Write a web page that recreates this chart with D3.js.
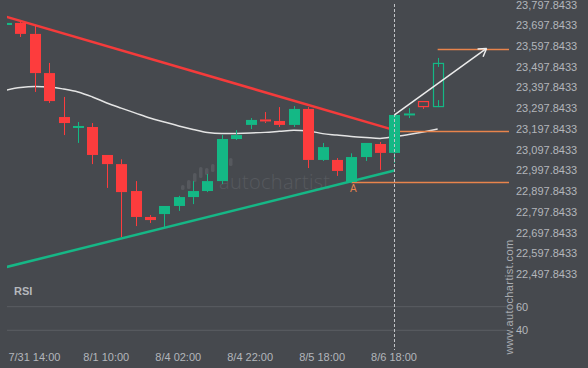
<!DOCTYPE html>
<meta charset="utf-8">
<style>
  body { margin: 0; background: #46494e; }
  svg { display: block; font-family: "Liberation Sans", Arial, sans-serif; }
  .axis text { fill: #b3b6bb; font-size: 11px; }
  .axis path, .axis line { display: none; }
</style>
<body>
<div id="chart"></div>
<script src="https://cdnjs.cloudflare.com/ajax/libs/d3/7.8.5/d3.min.js"></script>
<script>
// candles (4h)
const open  = [23699, 23709, 23656, 23467, 23255, 23205, 23207, 23072, 23028, 22898, 22773, 22787, 22826, 22869, 22898, 22946, 23149, 23217, 23241, 23236, 23217, 23294, 23048, 23048, 22942, 23062, 23125, 23082, 23265, 23332, 23303];
const high  = [23711, 23718, 23694, 23516, 23352, 23231, 23226, 23072, 23051, 22946, 22782, 22826, 22875, 22946, 22980, 23168, 23192, 23250, 23279, 23303, 23308, 23303, 23130, 23057, 23080, 23130, 23135, 23265, 23298, 23332, 23540];
const low   = [23697, 23641, 23376, 23323, 23168, 23130, 23028, 22913, 22676, 22729, 22744, 22720, 22802, 22835, 22893, 22932, 23144, 23197, 23226, 23207, 23207, 23009, 23043, 22971, 22937, 23043, 23000, 23033, 23250, 23294, 23303];
const close = [23709, 23656, 23467, 23332, 23226, 23209, 23072, 23028, 22893, 22773, 22758, 22826, 22869, 22898, 22946, 23149, 23168, 23241, 23236, 23217, 23294, 23048, 23110, 22995, 23062, 23130, 23082, 23265, 23270, 23303, 23516];
const hollowFrom = 29;

// moving average
const ma = [23385, 23397, 23402, 23400, 23390, 23376, 23352, 23323, 23298, 23274, 23250, 23231, 23212, 23195, 23180, 23175, 23176, 23178, 23181, 23186, 23191, 23188, 23175, 23168, 23161, 23156, 23152, 23161, 23171, 23183, 23197];

// RSI
const rsi = [62.3, 59.5, 59.5, 59.5, 56.1, 59.5, 56.9, 53.4, 50.2, 50.2, 50.2, 50.2, 50.2, 50.2, 53.6, 53.6, 56.6, 59.5, 56.1, 56.1, 56.1, 53.8, 53.8, 53.8, 56.1, 56.1, 56.1, 56.1, 59.5, 56.1, 56.1];

// pattern lines [index, price]
const resistance = [[0, 23739], [27, 23192]];
const support = [[0, 22531], [27, 22997]];
const arrowPts = [[27, 23265], [33.4, 23586]];
const targetLevel = 23585, targetFrom = 30;
const breakLevel = 23188, breakFrom = 27;
const aLevel = 22940, aFrom = 24;
const signalIdx = 27;

const xTickIdx = [2, 7, 12, 17, 22, 27];
const xTickLabels = ["7/31 14:00", "8/1 10:00", "8/4 02:00", "8/4 22:00", "8/5 18:00", "8/6 18:00"];
const priceTicks = d3.range(0, 14).map(k => 22497.8433 + k * 100);
const rsiTicks = [60, 40];

const width = 588, height = 368;
const green = "#14b885", red = "#fd3c3d", orange = "#e8844c";

const svg = d3.select("#chart").append("svg")
  .attr("width", width).attr("height", height);
svg.append("rect").attr("width", width).attr("height", height).attr("fill", "#46494e");

const x = d3.scaleLinear().domain([0, 34.94]).range([6.115, 508.7]);
const y = d3.scaleLinear().domain([22497.8433, 23797.8433]).range([274, 4.5]);
const yr = d3.scaleLinear().domain([40, 60]).range([330.3, 306.7]);

svg.append("clipPath").attr("id", "plot")
  .append("rect").attr("x", 7).attr("y", 0).attr("width", 502).attr("height", 285);

// watermark
const wm = svg.append("g").attr("fill", "#56595e");
const logo = [[181, 185, 5], [187, 180, 9], [193, 173, 9], [199, 167, 11], [205, 168, 7], [211, 164, 8], [217, 160, 10], [223, 158, 8], [229, 158, 8]];
wm.selectAll("rect").data(logo).enter().append("rect")
  .attr("x", d => d[0]).attr("y", d => d[1]).attr("width", 3.5).attr("height", d => d[2]).attr("rx", 1.5);
wm.append("text").attr("x", 219).attr("y", 189)
  .attr("font-size", 20).attr("font-weight", 300).attr("font-family", "'Open Sans', sans-serif")
  .attr("letter-spacing", 0.3).text("autochartist");

const plot = svg.append("g").attr("clip-path", "url(#plot)");

// RSI grid
svg.selectAll(".rgrid").data(rsiTicks).enter().append("line")
  .attr("x1", 7).attr("x2", 507).attr("y1", d => yr(d)).attr("y2", d => yr(d))
  .attr("stroke", "#5b5e63").attr("stroke-width", 1);

// signal dashed line
svg.append("line")
  .attr("x1", x(signalIdx)).attr("x2", x(signalIdx)).attr("y1", 4).attr("y2", 350)
  .attr("stroke", "#c4c6c9").attr("stroke-width", 1).attr("stroke-dasharray", "3,2");

const line = d3.line().x(d => x(d[0])).y(d => y(d[1]));

plot.append("path").datum(ma.map((v, i) => [i, v]))
  .attr("d", line.curve(d3.curveMonotoneX)).attr("fill", "none")
  .attr("stroke", "#e4e4e4").attr("stroke-width", 1.5);
line.curve(d3.curveLinear);

plot.append("path").datum(resistance).attr("d", line)
  .attr("stroke", "#f43b3b").attr("stroke-width", 2.5).attr("fill", "none");
plot.append("path").datum(support).attr("d", line)
  .attr("stroke", "#16b786").attr("stroke-width", 2.5).attr("fill", "none");

// levels
const levels = [[breakLevel, breakFrom], [aLevel, aFrom], [targetLevel, targetFrom]];
plot.selectAll(".lvl").data(levels).enter().append("line")
  .attr("x1", d => x(d[1])).attr("x2", 509)
  .attr("y1", d => Math.round(y(d[0])) + 0.5).attr("y2", d => Math.round(y(d[0])) + 0.5)
  .attr("stroke", orange).attr("stroke-width", 1.3);
svg.append("text").attr("x", x(aFrom) + 2).attr("y", y(aLevel) + 9.5)
  .attr("fill", orange).attr("font-size", 10).attr("text-anchor", "middle").text("A");

// candles
const candles = plot.selectAll(".c").data(open.map((o, i) => i)).enter().append("g");
const bw = 11;
candles.each(function (i) {
  const g = d3.select(this);
  const up = close[i] >= open[i];
  const col = up ? green : red;
  const hollow = i >= hollowFrom;
  const cx = Math.round(x(i)) + 0.5;
  let top = y(Math.max(open[i], close[i])), bot = y(Math.min(open[i], close[i]));
  if (bot - top < 2) { const m = (top + bot) / 2; top = m - 1; bot = m + 1; }
  const inset = hollow && bot - top > 20;
  g.append("line").attr("x1", cx).attr("x2", cx)
    .attr("y1", y(high[i])).attr("y2", top + (inset ? 4 : 0))
    .attr("stroke", col).attr("stroke-width", 1);
  g.append("line").attr("x1", cx).attr("x2", cx)
    .attr("y1", bot - (inset ? 7 : 0)).attr("y2", y(low[i]))
    .attr("stroke", col).attr("stroke-width", 1);
  if (hollow) {
    g.append("rect").attr("x", cx - bw / 2 + 0.5).attr("y", top + 0.5)
      .attr("width", bw - 1).attr("height", bot - top - 1)
      .attr("fill", "none").attr("stroke", col).attr("stroke-width", 1.2);
  } else {
    g.append("rect").attr("x", cx - bw / 2).attr("y", top)
      .attr("width", bw).attr("height", bot - top).attr("fill", col);
  }
});

// arrow
const a0 = arrowPts[0], a1 = arrowPts[1];
svg.append("path").datum(arrowPts).attr("d", line)
  .attr("stroke", "#ececec").attr("stroke-width", 1.5).attr("fill", "none");
const ax = x(a1[0]), ay = y(a1[1]);
const ang = Math.atan2(y(a1[1]) - y(a0[1]), x(a1[0]) - x(a0[0]));
[0.55, -0.55].forEach(da => {
  svg.append("line").attr("x1", ax).attr("y1", ay)
    .attr("x2", ax - 9 * Math.cos(ang + da)).attr("y2", ay - 9 * Math.sin(ang + da))
    .attr("stroke", "#ececec").attr("stroke-width", 1.5);
});

// RSI
svg.append("text").attr("x", 14).attr("y", 295).attr("fill", "#b5b8bc")
  .attr("font-size", 11).attr("font-weight", "bold").text("RSI");
svg.append("path").datum(rsi.map((v, i) => [i, v]))
  .attr("d", d3.line().x(d => x(d[0])).y(d => yr(d[1])))
  .attr("clip-path", "url(#plot)")
  .attr("fill", "none").attr("stroke", "#f2f2f2").attr("stroke-width", 1.2);

// axes
svg.append("g").attr("class", "axis").attr("transform", "translate(513,0)")
  .call(d3.axisRight(y).tickValues(priceTicks).tickFormat(d3.format(",.4f")).tickSize(0).tickPadding(3));
svg.append("g").attr("class", "axis").attr("transform", "translate(513,0)")
  .call(d3.axisRight(yr).tickValues(rsiTicks).tickSize(0).tickPadding(3));
svg.append("g").attr("class", "axis").attr("transform", "translate(-1,350)")
  .call(d3.axisBottom(x).tickValues(xTickIdx).tickFormat((d, k) => xTickLabels[k]).tickSize(0).tickPadding(3));

svg.append("text").attr("transform", "translate(513,297) rotate(-90)")
  .attr("text-anchor", "middle").attr("fill", "#a9acb1").attr("font-size", 11)
  .attr("letter-spacing", 0.4).text("www.autochartist.com");
</script>
</body>
